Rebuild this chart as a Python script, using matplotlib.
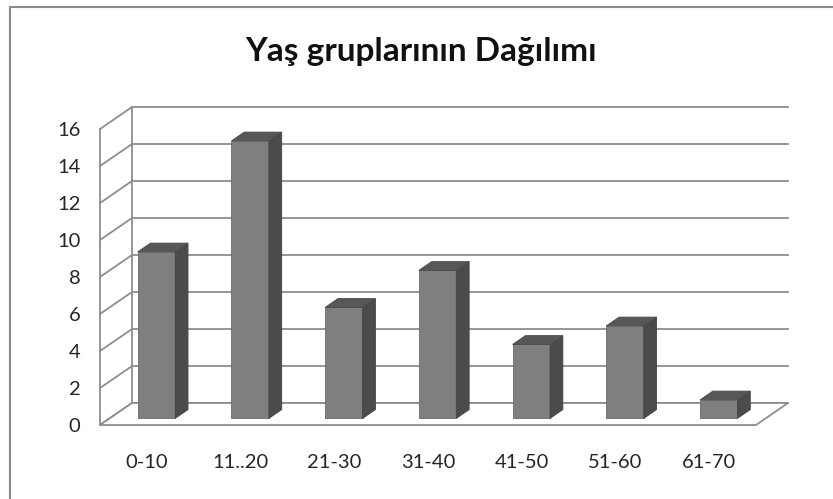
import numpy as np
import matplotlib
matplotlib.use("Agg")
import matplotlib.pyplot as plt
from matplotlib.patches import Polygon
from matplotlib.lines import Line2D

plt.rcParams['font.family'] = ['Lato', 'DejaVu Sans']

# veriler
categories = ['0-10', '11..20', '21-30', '31-40', '41-50', '51-60', '61-70']
values = [9, 15, 6, 8, 4, 5, 1]
y_ticks = [0, 2, 4, 6, 8, 10, 12, 14, 16]
title = 'Yaş gruplarının Dağılımı'

W, H = 833, 499
fig = plt.figure(figsize=(W / 100, H / 100), dpi=100)

# on duvar (piksel): x 100..756, y 425..129
ax = fig.add_axes([100 / W, (H - 425) / H, 656 / W, 296 / H])
n = len(categories)
ymax = y_ticks[-1]
ax.set_xlim(0, n)
ax.set_ylim(0, ymax)
for s in ax.spines.values():
    s.set_visible(False)

# derinlik kaymasi (veri birimi)
DX = 32 / (656 / n)
DY = 22 / (296 / ymax)

grid_c = '#8e8e8e'
lw = 1.3

# arka duvar + yan duvar izgara cizgileri
for t in y_ticks:
    ax.add_line(Line2D([0, DX, n + DX], [t, t + DY, t + DY], color=grid_c, lw=lw, clip_on=False))
ax.add_line(Line2D([0, 0], [0, ymax], color=grid_c, lw=lw, clip_on=False))
ax.add_line(Line2D([DX, DX], [DY, ymax + DY], color=grid_c, lw=lw, clip_on=False))

# zemin
floor = Polygon([[0, 0], [n, 0], [n + DX, DY], [DX, DY]], closed=True,
                facecolor='white', edgecolor=grid_c, lw=lw, clip_on=False, zorder=2)
ax.add_patch(floor)

# 3B cubuklar
bw = 0.4
f0, f1 = 0.3, 0.7
for i, v in enumerate(values):
    x0 = i + 0.5 - bw / 2 + f0 * DX
    x1 = x0 + bw
    y0 = f0 * DY
    ddx = (f1 - f0) * DX
    ddy = (f1 - f0) * DY
    front = Polygon([[x0, y0], [x1, y0], [x1, y0 + v], [x0, y0 + v]],
                    facecolor='#7f7f7f', edgecolor='#6a6a6a', lw=0.6, clip_on=False, zorder=3)
    side = Polygon([[x1, y0], [x1 + ddx, y0 + ddy], [x1 + ddx, y0 + ddy + v], [x1, y0 + v]],
                   facecolor='#4b4b4b', edgecolor='#444444', lw=0.6, clip_on=False, zorder=3)
    top = Polygon([[x0, y0 + v], [x1, y0 + v], [x1 + ddx, y0 + v + ddy], [x0 + ddx, y0 + v + ddy]],
                  facecolor='#575757', edgecolor='#4a4a4a', lw=0.6, clip_on=False, zorder=3)
    for p in (front, side, top):
        ax.add_patch(p)

ax.set_yticks(y_ticks)
ax.set_yticklabels([str(t) for t in y_ticks], fontsize=14.5, color='#262626')
ax.set_xticks(np.arange(n) + 0.5)
ax.set_xticklabels(categories, fontsize=14.5, color='#262626')
ax.tick_params(axis='y', length=0, pad=14)
ax.tick_params(axis='x', length=0, pad=21)

fig.text(421 / W, 1 - 52 / H, title, ha='center', va='center',
         fontsize=24, fontweight='bold', color='#111111')

# cerceve (ust ve sol)
fig.add_artist(Line2D([10 / W, 1], [1 - 7 / H, 1 - 7 / H], color='#8a8a8a', lw=1.5))
fig.add_artist(Line2D([10 / W, 10 / W], [0, 1 - 7 / H], color='#8a8a8a', lw=1.5))

fig.savefig('out.png', dpi=100)
